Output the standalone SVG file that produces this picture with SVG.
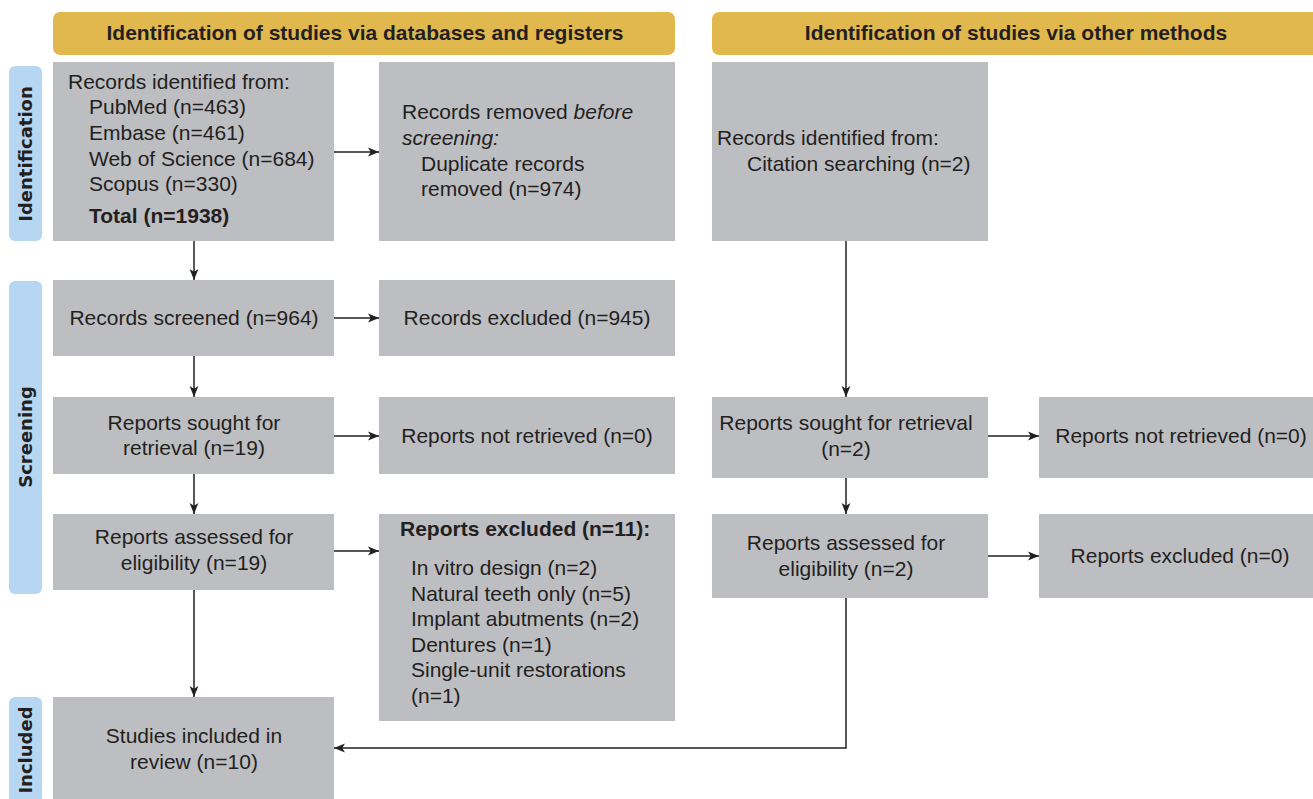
<svg xmlns="http://www.w3.org/2000/svg" width="1313" height="799" viewBox="0 0 1313 799">
<style>
.box{fill:#bdbec2}
.hdr{fill:#e0b84e}
.side{fill:#b6d6f1}
.t{font-family:"Liberation Sans",Arial,sans-serif;font-size:21px;fill:#231f20}
.c{text-anchor:middle}
.b{font-weight:bold}
.h{font-family:"Liberation Sans",Arial,sans-serif;font-size:21px;font-weight:bold;fill:#231f20;text-anchor:middle}
.s{font-family:"DejaVu Sans",Verdana,sans-serif;font-size:18px;font-weight:bold;fill:#231f20;text-anchor:middle}
.ln{fill:none;stroke:#231f20;stroke-width:1.5;marker-end:url(#ah)}
</style>
<defs>
<marker id="ah" viewBox="0 0 10 10" refX="10" refY="5" markerWidth="11" markerHeight="11" markerUnits="userSpaceOnUse" orient="auto">
<path d="M0,1 L10,5 L0,9 L2.5,5 Z" fill="#231f20"/>
</marker>
</defs>
<rect width="1313" height="799" fill="#ffffff"/>

<g id="header-db"><rect class="hdr" x="53" y="12" width="622" height="43" rx="7"/><text class="h" x="365" y="40">Identification of studies via databases and registers</text></g>
<g id="header-other"><rect class="hdr" x="712" y="12" width="610" height="43" rx="7"/><text class="h" x="1016" y="40">Identification of studies via other methods</text></g>

<g id="side-identification"><rect class="side" x="9" y="66" width="33" height="175" rx="6"/><text class="s" transform="translate(32,154) rotate(-90)">Identification</text></g>
<g id="side-screening"><rect class="side" x="9" y="281" width="33" height="313" rx="6"/><text class="s" transform="translate(32,437) rotate(-90)">Screening</text></g>
<g id="side-included"><rect class="side" x="9" y="697" width="33" height="110" rx="6"/><text class="s" transform="translate(32,750) rotate(-90)">Included</text></g>

<g id="records-identified"><rect class="box" x="53" y="62" width="281" height="179"/>
<text class="t" x="68" y="89">Records identified from:</text>
<text class="t" x="89" y="114">PubMed (n=463)</text>
<text class="t" x="89" y="140">Embase (n=461)</text>
<text class="t" x="89" y="166">Web of Science (n=684)</text>
<text class="t" x="89" y="191">Scopus (n=330)</text>
<text class="t b" x="89" y="223">Total (n=1938)</text></g>

<g id="records-removed"><rect class="box" x="379" y="62" width="296" height="179"/>
<text class="t" x="402" y="119">Records removed <tspan font-style="italic">before</tspan></text>
<text class="t" x="402" y="145" font-style="italic">screening:</text>
<text class="t" x="421" y="171">Duplicate records</text>
<text class="t" x="421" y="196">removed (n=974)</text></g>

<g id="citation-records"><rect class="box" x="712" y="62" width="276" height="179"/>
<text class="t" x="717" y="145">Records identified from:</text>
<text class="t" x="747" y="171">Citation searching (n=2)</text></g>

<g id="records-screened"><rect class="box" x="53" y="280" width="281" height="76"/>
<text class="t c" x="194" y="325">Records screened (n=964)</text></g>

<g id="records-excluded"><rect class="box" x="379" y="280" width="296" height="76"/>
<text class="t c" x="527" y="325">Records excluded (n=945)</text></g>

<g id="reports-sought"><rect class="box" x="53" y="397" width="281" height="77"/>
<text class="t c" x="194" y="430">Reports sought for</text>
<text class="t c" x="194" y="455">retrieval (n=19)</text></g>

<g id="reports-not-retrieved"><rect class="box" x="379" y="397" width="296" height="77"/>
<text class="t c" x="527" y="443">Reports not retrieved (n=0)</text></g>

<g id="reports-sought-other"><rect class="box" x="712" y="397" width="276" height="81"/>
<text class="t c" x="846" y="430">Reports sought for retrieval</text>
<text class="t c" x="846" y="456">(n=2)</text></g>

<g id="reports-not-retrieved-other"><rect class="box" x="1039" y="397" width="280" height="81"/>
<text class="t c" x="1181" y="443">Reports not retrieved (n=0)</text></g>

<g id="reports-assessed"><rect class="box" x="53" y="514" width="281" height="76"/>
<text class="t c" x="194" y="544">Reports assessed for</text>
<text class="t c" x="194" y="570">eligibility (n=19)</text></g>

<g id="reports-excluded"><rect class="box" x="379" y="514" width="296" height="207"/>
<text class="t b" x="400" y="536">Reports excluded (n=11):</text>
<text class="t" x="411" y="575">In vitro design (n=2)</text>
<text class="t" x="411" y="601">Natural teeth only (n=5)</text>
<text class="t" x="411" y="626">Implant abutments (n=2)</text>
<text class="t" x="411" y="652">Dentures (n=1)</text>
<text class="t" x="411" y="677">Single-unit restorations</text>
<text class="t" x="411" y="703">(n=1)</text></g>

<g id="reports-assessed-other"><rect class="box" x="712" y="514" width="276" height="84"/>
<text class="t c" x="846" y="550">Reports assessed for</text>
<text class="t c" x="846" y="576">eligibility (n=2)</text></g>

<g id="reports-excluded-other"><rect class="box" x="1039" y="514" width="280" height="84"/>
<text class="t c" x="1180" y="563">Reports excluded (n=0)</text></g>

<g id="studies-included"><rect class="box" x="53" y="697" width="281" height="110"/>
<text class="t c" x="194" y="743">Studies included in</text>
<text class="t c" x="194" y="769">review (n=10)</text></g>

<g id="connectors">
<path class="ln" d="M334,152 H379"/>
<path class="ln" d="M194,241 V280"/>
<path class="ln" d="M334,318 H379"/>
<path class="ln" d="M194,356 V397"/>
<path class="ln" d="M334,436 H379"/>
<path class="ln" d="M194,474 V514"/>
<path class="ln" d="M334,551 H379"/>
<path class="ln" d="M194,590 V697"/>
<path class="ln" d="M846,241 V397"/>
<path class="ln" d="M988,436 H1039"/>
<path class="ln" d="M846,478 V514"/>
<path class="ln" d="M988,556 H1039"/>
<path class="ln" d="M846,598 V748 H334"/>
</g>
</svg>
